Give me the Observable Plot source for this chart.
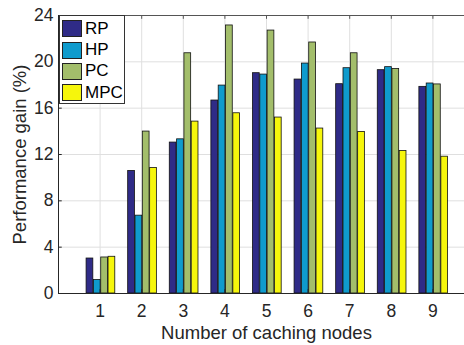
<!DOCTYPE html>
<html><head><meta charset="utf-8">
<script src="https://cdn.jsdelivr.net/npm/d3@7"></script>
<script src="https://cdn.jsdelivr.net/npm/@observablehq/plot@0.6"></script>
<style>
body{margin:0;background:#fff;font-family:"Liberation Sans",Arial,sans-serif;}
#wrap{position:relative;width:464px;height:345px;overflow:hidden;}
#legend{position:absolute;left:59px;top:15px;width:66px;height:89px;border:1px solid #333;background:#fff;box-sizing:border-box;padding:2px 0 0 2px;}
.item{display:flex;align-items:center;height:21.4px;font-size:17px;color:#000;}
.sw{width:20px;height:17px;border:1px solid #222;margin-right:3px;box-sizing:border-box;}
</style></head>
<body><div id="wrap"><div id="chart"></div><div id="legend"></div></div>
<script>
const nodes = [1,2,3,4,5,6,7,8,9];
const seriesNames = ["RP","HP","PC","MPC"];
const colors = ["#2f2b87","#0f9bcd","#a3be6b","#f6f60c"];
const RP  = [3.02,10.58,13.03,16.66,19.02,18.47,18.07,19.28,17.84];
const HP  = [1.16,6.72,13.31,17.95,18.90,19.85,19.45,19.54,18.13];
const PC  = [3.11,13.98,20.74,23.14,22.70,21.67,20.74,19.39,18.05];
const MPC = [3.17,10.84,14.84,15.56,15.19,14.24,13.95,12.30,11.81];
const yTicks = [0,4,8,12,16,20,24];
const series = [RP,HP,PC,MPC];

const step = 0.176, bw = 0.162;
const data = [];
series.forEach((vals,si)=>vals.forEach((v,i)=>{
  const c = nodes[i] + (si-1.5)*step + 0.02;
  data.push({x1:c-bw/2,x2:c+bw/2,y:v,s:seriesNames[si]});
}));

const axisColor = "#262626";
const chart = Plot.plot({
  width:464, height:345,
  marginLeft:58, marginRight:-10, marginTop:15, marginBottom:52,
  style:{fontFamily:"Liberation Sans, Arial, sans-serif", fontSize:"17px", color:"#262626", background:"#fff", overflow:"hidden"},
  x:{domain:[0,10], ticks:nodes, label:null},
  y:{domain:[0,24], ticks:yTicks, label:null},
  color:{domain:seriesNames, range:colors},
  marks:[
    Plot.gridY(yTicks,{stroke:"#dfdfdf",strokeOpacity:1}),
    Plot.gridX(nodes,{stroke:"#dfdfdf",strokeOpacity:1}),
    Plot.rectY(data,{x1:"x1",x2:"x2",y:"y",fill:"s",stroke:"#111",strokeWidth:0.8}),
    Plot.ruleY([0],{stroke:axisColor}),
    Plot.ruleY([24],{stroke:"#555"}),
    Plot.ruleX([0],{stroke:axisColor}),
    Plot.ruleY(yTicks,{x1:0,x2:0.09,stroke:axisColor}),
    Plot.ruleX(nodes,{y1:0,y2:0.33,stroke:axisColor}),
    Plot.ruleX(nodes,{y1:24,y2:23.67,stroke:"#555"}),
    Plot.axisX(nodes,{tickSize:0,tickPadding:11,fontSize:17.5}),
    Plot.axisY(yTicks,{tickSize:0,tickPadding:5,fontSize:17.5,label:null}),
    Plot.text(["Number of caching nodes"],{frameAnchor:"bottom",dy:45,fontSize:18.5,fill:"#262626"}),
    Plot.text(["Performance gain (%)"],{frameAnchor:"left",dx:-38,rotate:-90,textAnchor:"middle",fontSize:18.5,fill:"#262626"})
  ]
});
document.getElementById("chart").appendChild(chart);
const lg = document.getElementById("legend");
seriesNames.forEach((n,i)=>{
  const d=document.createElement("div");d.className="item";
  d.innerHTML=`<span class="sw" style="background:${colors[i]}"></span>${n}`;
  lg.appendChild(d);
});
</script></body></html>
